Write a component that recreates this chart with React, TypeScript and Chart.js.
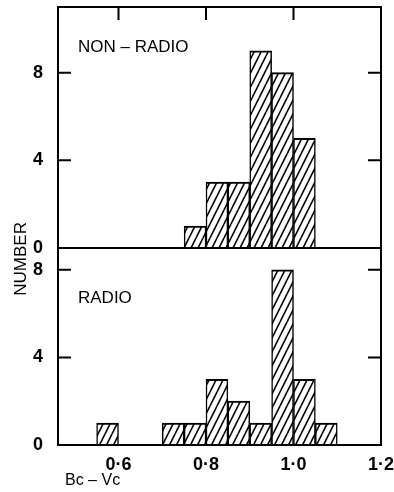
import React, { useEffect, useRef } from 'react';
import { Chart, registerables } from 'chart.js';

Chart.register(...registerables);

// Bin centres (Bc - Vc) and counts, bin width 0.05
const binCentersTop = [0.775, 0.825, 0.875, 0.925, 0.975, 1.025];
const countsTop = [1, 3, 3, 9, 8, 5];
const binCentersBottom = [0.575, 0.725, 0.775, 0.825, 0.875, 0.925, 0.975, 1.025, 1.075];
const countsBottom = [1, 1, 1, 3, 2, 1, 8, 3, 1];
const xTicks = [0.6, 0.8, 1.0, 1.2];
const xTopTicks = [0.6, 0.8, 1.0];
const yTicks = [0, 4, 8];
const yInnerTicks = [4, 8];
const panelLabels = ['NON – RADIO', 'RADIO'];
const yTitle = 'NUMBER';
const xTitle = 'Bc – Vc';

function makeHatch(): CanvasPattern | string {
  const p = 7;
  const h = 14;
  const c = document.createElement('canvas');
  c.width = p;
  c.height = h;
  const g = c.getContext('2d');
  if (!g) return '#fff';
  g.fillStyle = '#fff';
  g.fillRect(0, 0, p, h);
  g.strokeStyle = '#000';
  g.lineWidth = 1.6;
  for (const dx of [-p, 0, p]) {
    g.beginPath();
    g.moveTo(dx, h);
    g.lineTo(dx + p, 0);
    g.stroke();
  }
  return g.createPattern(c, 'repeat') || '#fff';
}

const framePlugin = {
  id: 'frame',
  afterDraw(chart: any) {
    const { ctx, chartArea: a, scales } = chart;
    const yT = scales.yTop;
    const yB = scales.yBot;
    const x = scales.x;
    ctx.save();
    ctx.strokeStyle = '#000';
    ctx.lineWidth = 2;
    ctx.strokeRect(a.left, a.top, a.right - a.left, a.bottom - a.top);
    ctx.beginPath();
    ctx.moveTo(a.left, yT.bottom);
    ctx.lineTo(a.right, yT.bottom);
    const tl = 13;
    for (const s of [yT, yB]) {
      for (const v of yInnerTicks) {
        const py = s.getPixelForValue(v);
        ctx.moveTo(a.left, py);
        ctx.lineTo(a.left + tl, py);
        ctx.moveTo(a.right, py);
        ctx.lineTo(a.right - tl, py);
      }
    }
    for (const v of xTopTicks) {
      const px = x.getPixelForValue(v);
      ctx.moveTo(px, a.top);
      ctx.lineTo(px, a.top + tl);
    }
    ctx.stroke();

    ctx.fillStyle = '#000';
    ctx.textAlign = 'left';
    ctx.textBaseline = 'alphabetic';
    ctx.font = '17px "Liberation Sans", Arial, sans-serif';
    ctx.fillText(panelLabels[0], a.left + 20, a.top + 45);
    ctx.fillText(panelLabels[1], a.left + 20, yB.top + 55);
    ctx.font = '16px "Liberation Sans", Arial, sans-serif';
    ctx.fillText(xTitle, a.left + 7, a.bottom + 40);

    ctx.font = '17px "Liberation Sans", Arial, sans-serif';
    ctx.translate(21, yT.bottom + 11);
    ctx.rotate(-Math.PI / 2);
    ctx.textAlign = 'center';
    ctx.textBaseline = 'middle';
    ctx.fillText(yTitle, 0, 0);
    ctx.restore();
  },
};

export default function App() {
  const ref = useRef<HTMLCanvasElement | null>(null);

  useEffect(() => {
    if (!ref.current) return;
    const hatch = makeHatch();
    const barStyle = {
      backgroundColor: hatch,
      borderColor: '#000',
      borderWidth: { top: 2, left: 1.5, right: 1.5, bottom: 0 },
      borderSkipped: 'start',
      barPercentage: 1,
      categoryPercentage: 1,
      grouped: false,
    };
    const tickFont = { family: '"Liberation Sans", Arial, sans-serif', weight: 'bold' as const };
    const yScale = (weight: number, max: number) => ({
      type: 'linear' as const,
      position: 'left' as const,
      stack: 'panels',
      stackWeight: weight,
      min: 0,
      max,
      grid: { display: false, drawTicks: false },
      border: { display: false },
      afterBuildTicks: (s: any) => {
        s.ticks = yTicks.map((v) => ({ value: v }));
      },
      afterFit: (s: any) => {
        s.width = 58;
        s.paddingTop = 0;
        s.paddingBottom = 0;
      },
      ticks: {
        color: '#000',
        padding: 15,
        font: { ...tickFont, size: 18 },
        callback: (v: any) => String(v),
      },
    });

    const chart = new Chart(ref.current, {
      type: 'bar',
      data: {
        datasets: [
          {
            ...barStyle,
            yAxisID: 'yTop',
            data: binCentersTop.map((x, i) => ({ x, y: countsTop[i] })),
          } as any,
          {
            ...barStyle,
            yAxisID: 'yBot',
            data: binCentersBottom.map((x, i) => ({ x, y: countsBottom[i] })),
          } as any,
        ],
      },
      options: {
        animation: false,
        responsive: false,
        maintainAspectRatio: false,
        layout: { padding: { top: 7, right: 13, left: 0, bottom: 0 } },
        plugins: {
          legend: { display: false },
          tooltip: { enabled: false },
          title: { display: false },
        },
        scales: {
          x: {
            type: 'linear',
            offset: false,
            min: 0.4617,
            max: 1.2,
            grid: { display: false, drawTicks: false, offset: false },
            border: { display: false },
            afterBuildTicks: (s: any) => {
              s.ticks = xTicks.map((v) => ({ value: v }));
            },
            afterFit: (s: any) => {
              s.height = 47;
              s.paddingLeft = 0;
              s.paddingRight = 0;
            },
            ticks: {
              color: '#000',
              padding: 9,
              maxRotation: 0,
              autoSkip: false,
              font: { ...tickFont, size: 18 },
              callback: (v: any) => Number(v).toFixed(1).replace('.', '·'),
            },
          },
          // stacked axes are laid out bottom-up in definition order
          yBot: yScale(9, 9),
          yTop: yScale(11, 11),
        } as any,
      },
      plugins: [framePlugin],
    });
    return () => chart.destroy();
  }, []);

  return (
    <div style={{ position: 'fixed', left: 0, top: 0, width: 394, height: 492, background: '#fff' }}>
      <canvas ref={ref} width={394} height={492} style={{ display: 'block', width: 394, height: 492 }} />
    </div>
  );
}
